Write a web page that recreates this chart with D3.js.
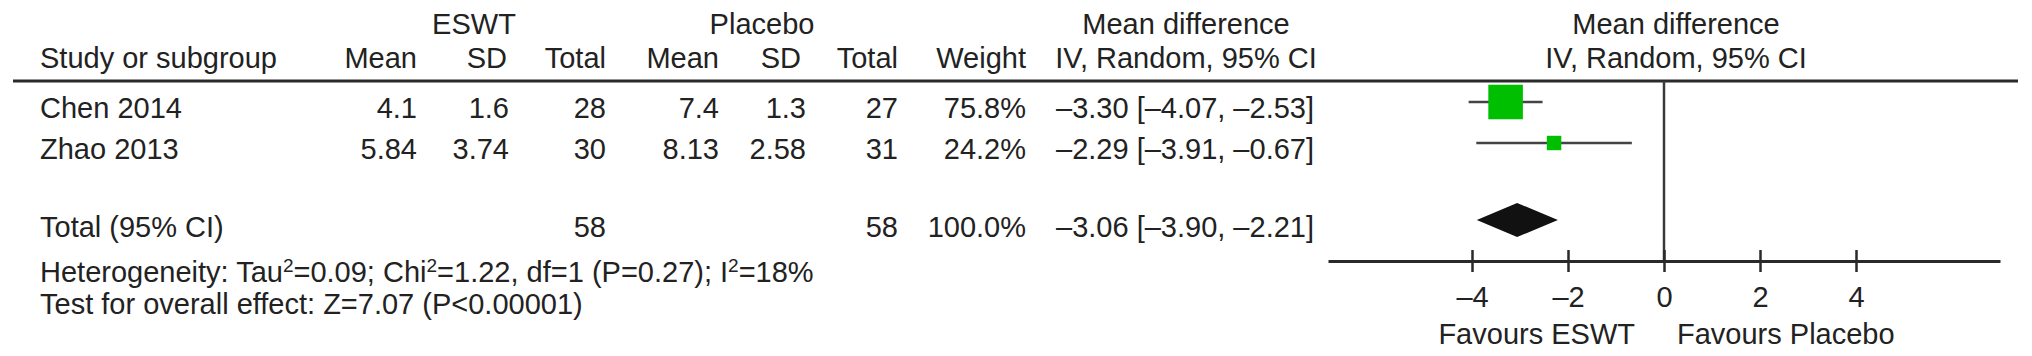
<!DOCTYPE html>
<html lang="en">
<head>
<meta charset="UTF-8">
<title>Forest plot ESWT vs Placebo</title>
<script src="https://cdn.jsdelivr.net/npm/d3@7"></script>
<style>
    body{ margin:0px; background:white; }
    text{ font-family:"Liberation Sans", Arial, Helvetica, sans-serif; font-size:29px; fill:#222; }
</style>
</head>
<body>
<svg id="forest">
    <g id="table"></g>
    <g id="plot"></g>
</svg>
<script>
const w = 2032, h = 356;

// data
const studies   = ["Chen 2014", "Zhao 2013"];
const eswtMean  = [4.1, 5.84];
const eswtSD    = [1.6, 3.74];
const eswtN     = [28, 30];
const placMean  = [7.4, 8.13];
const placSD    = [1.3, 2.58];
const placN     = [27, 31];
const weights   = [75.8, 24.2];
const md        = [-3.30, -2.29];
const ciLow     = [-4.07, -3.91];
const ciHigh    = [-2.53, -0.67];
const total     = {eswtN: 58, placN: 58, weight: 100.0, md: -3.06, lo: -3.90, hi: -2.21};
const xTicks    = [-4, -2, 0, 2, 4];

const svg = d3.select('#forest').attr('width', w).attr('height', h);
const tab = d3.select('#table');
const plot = d3.select('#plot');

const dash = s => s.replace(/-/g, '\u2013');
const f2 = v => dash(v.toFixed(2));
const ciTxt = (m, l, u) => f2(m) + ' [' + f2(l) + ', ' + f2(u) + ']';

function txt(g, x, y, s, anchor){
    return g.append('text').attr('x', x).attr('y', y)
        .attr('text-anchor', anchor || 'start').text(s);
}

// layout
const hdr1 = 34, hdr2 = 68, ruleY = 81;
const rowY = [118, 159], totalY = 237;
const col = {study: 40, mean: 417, sd: 509, n: 606, pmean: 719, psd: 806, pn: 898, weight: 1026, ci: 1314};

// headers
txt(tab, 474, hdr1, 'ESWT', 'middle');
txt(tab, 762, hdr1, 'Placebo', 'middle');
txt(tab, 1186, hdr1, 'Mean difference', 'middle');
txt(tab, col.study, hdr2, 'Study or subgroup');
txt(tab, col.mean, hdr2, 'Mean', 'end');
txt(tab, col.sd - 2, hdr2, 'SD', 'end');
txt(tab, col.n, hdr2, 'Total', 'end');
txt(tab, col.pmean, hdr2, 'Mean', 'end');
txt(tab, col.psd - 5, hdr2, 'SD', 'end');
txt(tab, col.pn, hdr2, 'Total', 'end');
txt(tab, col.weight, hdr2, 'Weight', 'end');
txt(tab, 1186, hdr2, 'IV, Random, 95% CI', 'middle');

tab.append('line').attr('x1', 13).attr('x2', 2018).attr('y1', ruleY).attr('y2', ruleY)
    .attr('stroke', '#2a2a2a').attr('stroke-width', 3);

// study rows
studies.forEach((s, i) => {
    const y = rowY[i];
    txt(tab, col.study, y, s);
    txt(tab, col.mean, y, String(eswtMean[i]), 'end');
    txt(tab, col.sd, y, String(eswtSD[i]), 'end');
    txt(tab, col.n, y, eswtN[i], 'end');
    txt(tab, col.pmean, y, String(placMean[i]), 'end');
    txt(tab, col.psd, y, String(placSD[i]), 'end');
    txt(tab, col.pn, y, placN[i], 'end');
    txt(tab, col.weight, y, weights[i].toFixed(1) + '%', 'end');
    txt(tab, col.ci, y, ciTxt(md[i], ciLow[i], ciHigh[i]), 'end');
});

// total row
txt(tab, col.study, totalY, 'Total (95% CI)');
txt(tab, col.n, totalY, total.eswtN, 'end');
txt(tab, col.pn, totalY, total.placN, 'end');
txt(tab, col.weight, totalY, total.weight.toFixed(1) + '%', 'end');
txt(tab, col.ci, totalY, ciTxt(total.md, total.lo, total.hi), 'end');

// footnotes
const het = tab.append('text').attr('x', col.study).attr('y', 282);
[['Heterogeneity: Tau', 0], ['2', 1], ['=0.09; Chi', 0], ['2', 1], ['=1.22, df=1 (P=0.27); I', 0], ['2', 1], ['=18%', 0]]
    .forEach(([t, sup], k, arr) => {
        const prevSup = k > 0 && arr[k - 1][1];
        het.append('tspan')
            .attr('dy', sup ? -10 : (prevSup ? 10 : 0))
            .style('font-size', sup ? '19px' : null)
            .text(t);
    });
txt(tab, col.study, 314, 'Test for overall effect: Z=7.07 (P<0.00001)');

// forest plot
const x = d3.scaleLinear().domain([-7, 7]).range([1328, 2000]);
const size = d3.scaleLinear().domain([0, 100]).range([5, 44]);
const axisY = 261, markOff = -16;

txt(plot, 1676, hdr1, 'Mean difference', 'middle');
txt(plot, 1676, hdr2, 'IV, Random, 95% CI', 'middle');

plot.append('line').attr('x1', x(0)).attr('x2', x(0)).attr('y1', ruleY).attr('y2', axisY)
    .attr('stroke', '#3a3a3a').attr('stroke-width', 2.5);

const rows = plot.selectAll('g.study').data(studies).join('g').attr('class', 'study');
rows.append('line')
    .attr('x1', (d, i) => x(ciLow[i])).attr('x2', (d, i) => x(ciHigh[i]))
    .attr('y1', (d, i) => rowY[i] + markOff).attr('y2', (d, i) => rowY[i] + markOff)
    .attr('stroke', '#444').attr('stroke-width', 2.5);
rows.append('rect')
    .attr('x', (d, i) => x(md[i]) - size(weights[i]) / 2)
    .attr('y', (d, i) => rowY[i] + markOff - size(weights[i]) / 2)
    .attr('width', (d, i) => size(weights[i]))
    .attr('height', (d, i) => size(weights[i]))
    .attr('fill', '#00bf00');

const dy = totalY + markOff - 1;
plot.append('path')
    .attr('d', 'M' + x(total.lo) + ',' + dy + 'L' + x(total.md) + ',' + (dy - 17)
        + 'L' + x(total.hi) + ',' + dy + 'L' + x(total.md) + ',' + (dy + 17) + 'Z')
    .attr('fill', '#111');

const ax = plot.append('g').attr('transform', 'translate(0,' + axisY + ')')
    .call(d3.axisBottom(x).tickValues(xTicks).tickSizeOuter(0).tickSizeInner(11).tickPadding(14)
        .tickFormat(d => dash(String(d))));
ax.select('.domain').attr('stroke', '#2a2a2a').attr('stroke-width', 3);
ax.selectAll('.tick line').attr('y1', -11).attr('y2', 11).attr('stroke', '#2a2a2a').attr('stroke-width', 2.5);
ax.selectAll('.tick text').attr('fill', '#222').style('font-size', '29px')
    .style('font-family', '"Liberation Sans", Arial, sans-serif');

txt(plot, 1635, 344, 'Favours ESWT', 'end');
txt(plot, 1677, 344, 'Favours Placebo', 'start');
</script>
</body>
</html>
